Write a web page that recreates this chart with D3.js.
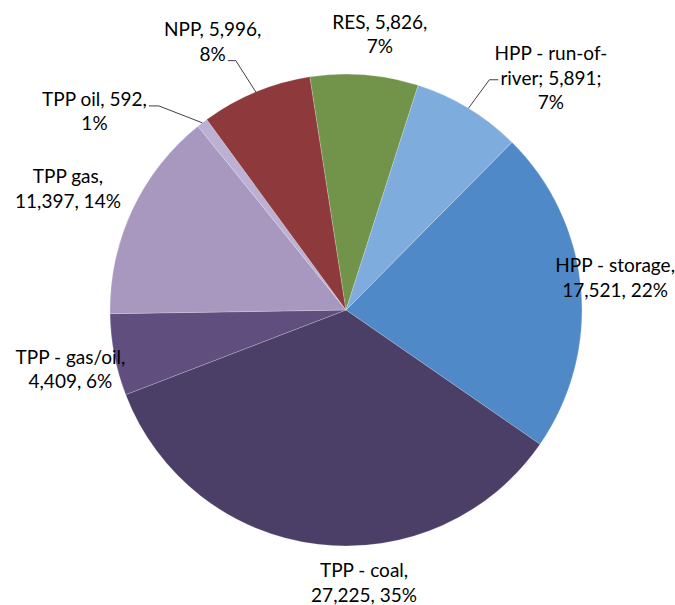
<!DOCTYPE html>
<html>
<head>
<meta charset="utf-8">
<script src="https://cdn.jsdelivr.net/npm/d3@7"></script>
<style>
  body { margin: 0; background: #fff; }
  svg text { font-family: Lato, 'Open Sans', sans-serif; font-size: 19px; fill: #000; }
</style>
</head>
<body>
<svg id="chart" width="675" height="605"></svg>
<script>
// Installed capacity by plant type (clockwise from HPP - storage)
var categories = ['HPP - storage', 'TPP - coal', 'TPP - gas/oil', 'TPP gas', 'TPP oil', 'NPP', 'RES', 'HPP - run-of-river']
var values     = [17521, 27225, 4409, 11397, 592, 5996, 5826, 5891]
var colors     = ['#4f89c7', '#4b3f68', '#5f4e7e', '#a898c0', '#bcb1d2', '#8e3a3c', '#71934a', '#7eacdc']

// label text, wrapped the way the original shows it
var labelLines = [
  ['HPP - storage,', '17,521, 22%'],
  ['TPP - coal,', '27,225, 35%'],
  ['TPP - gas/oil,', '4,409, 6%'],
  ['TPP gas,', '11,397, 14%'],
  ['TPP oil, 592,', '1%'],
  ['NPP, 5,996,', '8%'],
  ['RES, 5,826,', '7%'],
  ['HPP - run-of-', 'river; 5,891;', '7%']
]

// label placement: distance from centre and angle nudge (deg) off the slice mid-angle
var labelR     = [271, 274, 282, 303, 320, 299, 277, 309]
var labelNudge = [-1.4, -10.6, -1.3, -1.7, -14.3, -4.0, 2.5, 10.3]
// leader lines: which text line they hook onto, which side, elbow length
var leaders = {4: {line: 0, side: 'right', dy: 0, elbow: 10},
               5: {line: 1, side: 'right', dy: 0, elbow: 8},
               7: {line: 1, side: 'left',  dy: -5, elbow: 9}}

var cx = 346, cy = 310, R = 236
var LH = 24.5
var deg = Math.PI / 180
var start = 44.7 * deg

var svg = d3.select('#chart')
var g = svg.append('g').attr('transform', 'translate(' + cx + ',' + cy + ')')

var pie = d3.pie().sort(null).startAngle(start).endAngle(start + 2 * Math.PI)
var arcs = pie(values)
var arc = d3.arc().innerRadius(0).outerRadius(R)

g.selectAll('path.slice').data(arcs).join('path')
  .attr('class', 'slice')
  .attr('d', arc)
  .attr('fill', function(d, i){ return colors[i] })
  .attr('stroke', '#fff').attr('stroke-width', 0.5).attr('stroke-opacity', 0.4)

function polar(r, a){ return [r * Math.sin(a), -r * Math.cos(a)] }

arcs.forEach(function(d, i){
  var mid = (d.startAngle + d.endAngle) / 2
  var p = polar(labelR[i], mid + labelNudge[i] * deg)
  var lines = labelLines[i], n = lines.length
  var t = g.append('text').attr('text-anchor', 'middle')
  var spans = lines.map(function(s, j){
    return t.append('tspan').attr('x', p[0])
      .attr('y', p[1] + 6 + (j - (n - 1) / 2) * LH).text(s)
  })

  var L = leaders[i]
  if (!L) return
  var sp = spans[L.line]
  var w = sp.node().getComputedTextLength()
  var by = +sp.attr('y') + L.dy
  var x0 = L.side == 'right' ? p[0] + w / 2 + 2 : p[0] - w / 2 - 2
  var x1 = L.side == 'right' ? x0 + L.elbow : x0 - L.elbow
  var e = polar(R, mid)
  g.append('path')
    .attr('d', d3.line()([[x0, by], [x1, by], e]))
    .attr('fill', 'none').attr('stroke', '#404040').attr('stroke-width', 1)
})
</script>
</body>
</html>
